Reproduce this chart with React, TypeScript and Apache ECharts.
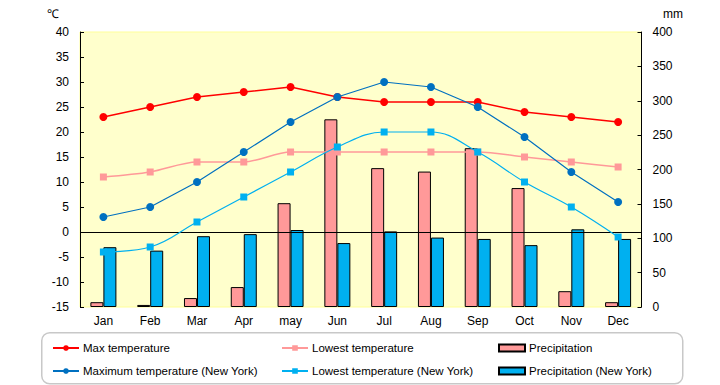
import React, { useEffect, useRef } from "react";
import * as echarts from "echarts";

const months = ["Jan", "Feb", "Mar", "Apr", "may", "Jun", "Jul", "Aug", "Sep", "Oct", "Nov", "Dec"];
const maxTemp = [23, 25, 27, 28, 29, 27, 26, 26, 26, 24, 23, 22];
const lowTemp = [11, 12, 14, 14, 16, 16, 16, 16, 16, 15, 14, 13];
const nyMaxTemp = [3, 5, 10, 16, 22, 27, 30, 29, 25, 19, 12, 6];
const nyLowTemp = [-4, -3, 2, 7, 12, 17, 20, 20, 16, 10, 5, -1];
const precip = [7, 3, 13, 29, 151, 273, 202, 197, 231, 173, 23, 7];
const nyPrecip = [87, 82, 103, 106, 112, 93, 110, 101, 99, 90, 113, 99];

const FONT = "Liberation Sans";

export default function App() {
  const ref = useRef<HTMLDivElement>(null);
  useEffect(() => {
    document.body.style.margin = "0";
    const chart = echarts.init(ref.current!, null, { renderer: "svg" });
    const txt = { fontFamily: FONT, fontSize: 12, color: "#000" };
    const legendBase = {
      orient: "vertical" as const,
      itemWidth: 26,
      itemHeight: 7,
      itemGap: 11,
      padding: 0,
      textStyle: { fontFamily: FONT, fontSize: 11.5, color: "#000", padding: [0, 0, 0, -1] },
      selectedMode: false,
    };
    chart.setOption({
      animation: false,
      backgroundColor: "#fff",
      grid: {
        left: 80,
        right: 78.5,
        top: 32,
        bottom: 78,
        show: true,
        backgroundColor: "#FFFFCC",
        borderColor: "#FFFF99",
        borderWidth: 1,
      },
      xAxis: {
        type: "category",
        data: months,
        axisLine: { show: false },
        axisTick: { show: false },
        axisLabel: { ...txt, margin: 8 },
      },
      yAxis: [
        {
          type: "value",
          min: -15,
          max: 40,
          interval: 5,
          axisLine: { show: true, lineStyle: { color: "#000", width: 1 } },
          axisTick: { show: true, inside: true, length: 4, lineStyle: { color: "#000" } },
          splitLine: { show: false },
          axisLabel: { ...txt, margin: 11 },
        },
        {
          type: "value",
          min: 0,
          max: 400,
          interval: 50,
          position: "right",
          axisLine: { show: true, lineStyle: { color: "#000", width: 1 } },
          axisTick: { show: true, inside: true, length: 4, lineStyle: { color: "#000" } },
          splitLine: { show: false },
          axisLabel: { ...txt, margin: 11 },
        },
      ],
      legend: [
        { ...legendBase, left: 52, top: 342, data: ["Max temperature", "Maximum temperature (New York)"] },
        { ...legendBase, left: 281, top: 342, data: ["Lowest temperature", "Lowest temperature (New York)"] },
        {
          ...legendBase,
          left: 498,
          top: 342,
          data: [
            { name: "Precipitation", icon: "rect" },
            { name: "Precipitation (New York)", icon: "rect" },
          ],
        },
      ],
      graphic: [
        {
          type: "rect",
          left: 41,
          top: 332,
          shape: { width: 641, height: 51, r: 8 },
          style: { fill: "#fff", stroke: "#C8C8C8", lineWidth: 1.5 },
          z: -1,
        },
        { type: "text", left: 47, top: 8, style: { text: "℃", font: `12px ${FONT}`, fill: "#000" } },
        { type: "text", left: 663, top: 8, style: { text: "mm", font: `12px ${FONT}`, fill: "#000" } },
      ],
      series: [
        {
          name: "Precipitation",
          type: "bar",
          yAxisIndex: 1,
          data: precip,
          barWidth: 13,
          barGap: "0%",
          itemStyle: { color: "#FF9999", borderColor: "#000", borderWidth: 1 },
        },
        {
          name: "Precipitation (New York)",
          type: "bar",
          yAxisIndex: 1,
          data: nyPrecip,
          barWidth: 13,
          barGap: "0%",
          itemStyle: { color: "#00B0F0", borderColor: "#000", borderWidth: 1 },
        },
        {
          name: "Max temperature",
          type: "line",
          yAxisIndex: 0,
          data: maxTemp,
          symbol: "circle",
          symbolSize: 8,
          lineStyle: { color: "#FF0000", width: 1.5 },
          itemStyle: { color: "#FF0000" },
          z: 5,
          markLine: {
            silent: true,
            symbol: "none",
            label: { show: false },
            lineStyle: { color: "#000", width: 1, type: "solid" },
            data: [{ yAxis: 0 }],
          },
        },
        {
          name: "Lowest temperature",
          type: "line",
          yAxisIndex: 0,
          data: lowTemp,
          smooth: 0.3,
          symbol: "rect",
          symbolSize: 7,
          lineStyle: { color: "#FF9999", width: 1.5 },
          itemStyle: { color: "#FF9999" },
          z: 4,
        },
        {
          name: "Maximum temperature (New York)",
          type: "line",
          yAxisIndex: 0,
          data: nyMaxTemp,
          symbol: "circle",
          symbolSize: 8,
          lineStyle: { color: "#0070C0", width: 1.2 },
          itemStyle: { color: "#0070C0" },
          z: 5,
        },
        {
          name: "Lowest temperature (New York)",
          type: "line",
          yAxisIndex: 0,
          data: nyLowTemp,
          smooth: 0.4,
          symbol: "rect",
          symbolSize: 7,
          lineStyle: { color: "#00B0F0", width: 1.2 },
          itemStyle: { color: "#00B0F0" },
          z: 5,
        },
      ],
    });
    return () => chart.dispose();
  }, []);
  return <div ref={ref} style={{ width: 720, height: 385 }} />;
}
